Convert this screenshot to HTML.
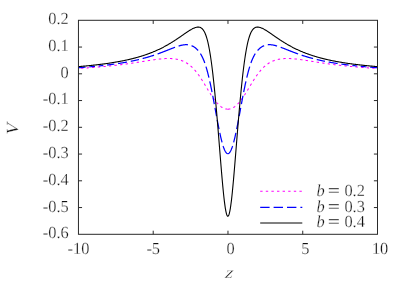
<!DOCTYPE html>
<html><head><meta charset="utf-8"><style>
html,body{margin:0;padding:0;background:#fff}
svg{display:block}
text{text-rendering:geometricPrecision;font-family:"Liberation Serif",serif;font-size:16.4px;fill:#111;stroke:#fff;stroke-width:0.25px;paint-order:fill stroke}
.tx{opacity:0.999}
.ax path,.ax rect{stroke:#2a2a2a;stroke-width:1;fill:none}
.c{fill:none;stroke-width:1.25}
</style></head><body>
<svg width="407" height="286" viewBox="0 0 407 286">
<rect width="407" height="286" fill="#fff"/>
<clipPath id="cp"><rect x="78.45" y="20.3" width="299.05" height="214.0"/></clipPath>
<g clip-path="url(#cp)">
<path class="c" stroke="#ff00ff" style="stroke-width:1.05" stroke-dasharray="2.4 3.2" stroke-dashoffset="2.6" d="M78.00 68.49 L78.37 68.47 L78.75 68.45 L79.12 68.43 L79.50 68.40 L79.87 68.38 L80.25 68.36 L80.62 68.34 L81.00 68.31 L81.37 68.29 L81.75 68.27 L82.12 68.24 L82.50 68.22 L82.87 68.19 L83.24 68.17 L83.62 68.15 L83.99 68.12 L84.37 68.10 L84.74 68.07 L85.12 68.05 L85.49 68.02 L85.87 68.00 L86.24 67.97 L86.62 67.95 L86.99 67.92 L87.37 67.89 L87.74 67.87 L88.11 67.84 L88.49 67.81 L88.86 67.79 L89.24 67.76 L89.61 67.73 L89.99 67.71 L90.36 67.68 L90.74 67.65 L91.11 67.62 L91.49 67.60 L91.86 67.57 L92.24 67.54 L92.61 67.51 L92.98 67.48 L93.36 67.45 L93.73 67.42 L94.11 67.40 L94.48 67.37 L94.86 67.34 L95.23 67.31 L95.61 67.28 L95.98 67.25 L96.36 67.22 L96.73 67.18 L97.11 67.15 L97.48 67.12 L97.86 67.09 L98.23 67.06 L98.60 67.03 L98.98 67.00 L99.35 66.96 L99.73 66.93 L100.10 66.90 L100.48 66.87 L100.85 66.83 L101.23 66.80 L101.60 66.77 L101.98 66.73 L102.35 66.70 L102.73 66.66 L103.10 66.63 L103.47 66.60 L103.85 66.56 L104.22 66.53 L104.60 66.49 L104.97 66.45 L105.35 66.42 L105.72 66.38 L106.10 66.35 L106.47 66.31 L106.85 66.27 L107.22 66.24 L107.60 66.20 L107.97 66.16 L108.34 66.12 L108.72 66.08 L109.09 66.05 L109.47 66.01 L109.84 65.97 L110.22 65.93 L110.59 65.89 L110.97 65.85 L111.34 65.81 L111.72 65.77 L112.09 65.73 L112.47 65.69 L112.84 65.65 L113.21 65.61 L113.59 65.57 L113.96 65.52 L114.34 65.48 L114.71 65.44 L115.09 65.40 L115.46 65.35 L115.84 65.31 L116.21 65.27 L116.59 65.22 L116.96 65.18 L117.34 65.13 L117.71 65.09 L118.08 65.05 L118.46 65.00 L118.83 64.95 L119.21 64.91 L119.58 64.86 L119.96 64.82 L120.33 64.77 L120.71 64.72 L121.08 64.68 L121.46 64.63 L121.83 64.58 L122.21 64.53 L122.58 64.48 L122.95 64.44 L123.33 64.39 L123.70 64.34 L124.08 64.29 L124.45 64.24 L124.83 64.19 L125.20 64.14 L125.58 64.09 L125.95 64.04 L126.33 63.99 L126.70 63.93 L127.08 63.88 L127.45 63.83 L127.83 63.78 L128.20 63.73 L128.57 63.67 L128.95 63.62 L129.32 63.57 L129.70 63.51 L130.07 63.46 L130.45 63.40 L130.82 63.35 L131.20 63.30 L131.57 63.24 L131.95 63.19 L132.32 63.13 L132.70 63.07 L133.07 63.02 L133.44 62.96 L133.82 62.91 L134.19 62.85 L134.57 62.79 L134.94 62.74 L135.32 62.68 L135.69 62.62 L136.07 62.56 L136.44 62.51 L136.82 62.45 L137.19 62.39 L137.57 62.33 L137.94 62.27 L138.31 62.21 L138.69 62.15 L139.06 62.10 L139.44 62.04 L139.81 61.98 L140.19 61.92 L140.56 61.86 L140.94 61.80 L141.31 61.74 L141.69 61.68 L142.06 61.62 L142.44 61.56 L142.81 61.50 L143.18 61.44 L143.56 61.38 L143.93 61.32 L144.31 61.26 L144.68 61.20 L145.06 61.14 L145.43 61.08 L145.81 61.02 L146.18 60.96 L146.56 60.90 L146.93 60.84 L147.31 60.78 L147.68 60.72 L148.05 60.66 L148.43 60.60 L148.80 60.54 L149.18 60.49 L149.55 60.43 L149.93 60.37 L150.30 60.31 L150.68 60.25 L151.05 60.20 L151.43 60.14 L151.80 60.08 L152.18 60.03 L152.55 59.97 L152.93 59.92 L153.30 59.86 L153.67 59.81 L154.05 59.76 L154.42 59.70 L154.80 59.65 L155.17 59.60 L155.55 59.55 L155.92 59.50 L156.30 59.45 L156.67 59.40 L157.05 59.35 L157.42 59.31 L157.80 59.26 L158.17 59.22 L158.54 59.17 L158.92 59.13 L159.29 59.09 L159.67 59.05 L160.04 59.01 L160.42 58.97 L160.79 58.93 L161.17 58.89 L161.54 58.86 L161.92 58.83 L162.29 58.79 L162.67 58.76 L163.04 58.73 L163.41 58.71 L163.79 58.68 L164.16 58.66 L164.54 58.63 L164.91 58.61 L165.29 58.59 L165.66 58.58 L166.04 58.56 L166.41 58.55 L166.79 58.54 L167.16 58.53 L167.54 58.52 L167.91 58.52 L168.28 58.51 L168.66 58.51 L169.03 58.52 L169.41 58.52 L169.78 58.53 L170.16 58.54 L170.53 58.55 L170.91 58.57 L171.28 58.59 L171.66 58.61 L172.03 58.63 L172.41 58.66 L172.78 58.69 L173.15 58.73 L173.53 58.76 L173.90 58.80 L174.28 58.85 L174.65 58.90 L175.03 58.95 L175.40 59.00 L175.78 59.06 L176.15 59.13 L176.53 59.19 L176.90 59.27 L177.28 59.34 L177.65 59.42 L178.02 59.51 L178.40 59.60 L178.77 59.69 L179.15 59.79 L179.52 59.90 L179.90 60.01 L180.27 60.12 L180.65 60.24 L181.02 60.37 L181.40 60.50 L181.77 60.64 L182.15 60.78 L182.52 60.93 L182.89 61.08 L183.27 61.25 L183.64 61.42 L184.02 61.59 L184.39 61.77 L184.77 61.96 L185.14 62.16 L185.52 62.36 L185.89 62.57 L186.27 62.79 L186.64 63.02 L187.02 63.25 L187.39 63.49 L187.77 63.74 L188.14 64.00 L188.51 64.27 L188.89 64.55 L189.26 64.83 L189.64 65.12 L190.01 65.43 L190.39 65.74 L190.76 66.06 L191.14 66.39 L191.51 66.73 L191.89 67.08 L192.26 67.44 L192.64 67.80 L193.01 68.18 L193.38 68.57 L193.76 68.97 L194.13 69.38 L194.51 69.79 L194.88 70.22 L195.26 70.66 L195.63 71.11 L196.01 71.56 L196.38 72.03 L196.76 72.50 L197.13 72.99 L197.51 73.48 L197.88 73.99 L198.25 74.50 L198.63 75.02 L199.00 75.55 L199.38 76.09 L199.75 76.64 L200.13 77.19 L200.50 77.75 L200.88 78.32 L201.25 78.90 L201.63 79.48 L202.00 80.07 L202.38 80.66 L202.75 81.26 L203.12 81.86 L203.50 82.47 L203.87 83.08 L204.25 83.70 L204.62 84.32 L205.00 84.94 L205.37 85.56 L205.75 86.19 L206.12 86.81 L206.50 87.44 L206.87 88.06 L207.25 88.68 L207.62 89.31 L207.99 89.93 L208.37 90.54 L208.74 91.16 L209.12 91.77 L209.49 92.38 L209.87 92.98 L210.24 93.58 L210.62 94.17 L210.99 94.76 L211.37 95.33 L211.74 95.91 L212.12 96.47 L212.49 97.02 L212.87 97.57 L213.24 98.11 L213.61 98.64 L213.99 99.16 L214.36 99.66 L214.74 100.16 L215.11 100.65 L215.49 101.12 L215.86 101.59 L216.24 102.04 L216.61 102.48 L216.99 102.91 L217.36 103.32 L217.74 103.72 L218.11 104.11 L218.48 104.48 L218.86 104.85 L219.23 105.19 L219.61 105.53 L219.98 105.85 L220.36 106.15 L220.73 106.44 L221.11 106.72 L221.48 106.98 L221.86 107.23 L222.23 107.47 L222.61 107.68 L222.98 107.89 L223.35 108.08 L223.73 108.25 L224.10 108.41 L224.48 108.55 L224.85 108.68 L225.23 108.80 L225.60 108.89 L225.98 108.98 L226.35 109.05 L226.73 109.10 L227.10 109.14 L227.48 109.16 L227.85 109.17"/>
<path class="c" stroke="#ff00ff" style="stroke-width:1.05" stroke-dasharray="2.4 3.2" stroke-dashoffset="2.6" d="M377.70 68.49 L377.33 68.47 L376.95 68.45 L376.58 68.43 L376.20 68.40 L375.83 68.38 L375.45 68.36 L375.08 68.34 L374.70 68.31 L374.33 68.29 L373.95 68.27 L373.58 68.24 L373.20 68.22 L372.83 68.19 L372.46 68.17 L372.08 68.15 L371.71 68.12 L371.33 68.10 L370.96 68.07 L370.58 68.05 L370.21 68.02 L369.83 68.00 L369.46 67.97 L369.08 67.95 L368.71 67.92 L368.33 67.89 L367.96 67.87 L367.59 67.84 L367.21 67.81 L366.84 67.79 L366.46 67.76 L366.09 67.73 L365.71 67.71 L365.34 67.68 L364.96 67.65 L364.59 67.62 L364.21 67.60 L363.84 67.57 L363.46 67.54 L363.09 67.51 L362.72 67.48 L362.34 67.45 L361.97 67.42 L361.59 67.40 L361.22 67.37 L360.84 67.34 L360.47 67.31 L360.09 67.28 L359.72 67.25 L359.34 67.22 L358.97 67.18 L358.59 67.15 L358.22 67.12 L357.84 67.09 L357.47 67.06 L357.10 67.03 L356.72 67.00 L356.35 66.96 L355.97 66.93 L355.60 66.90 L355.22 66.87 L354.85 66.83 L354.47 66.80 L354.10 66.77 L353.72 66.73 L353.35 66.70 L352.97 66.66 L352.60 66.63 L352.23 66.60 L351.85 66.56 L351.48 66.53 L351.10 66.49 L350.73 66.45 L350.35 66.42 L349.98 66.38 L349.60 66.35 L349.23 66.31 L348.85 66.27 L348.48 66.24 L348.10 66.20 L347.73 66.16 L347.36 66.12 L346.98 66.08 L346.61 66.05 L346.23 66.01 L345.86 65.97 L345.48 65.93 L345.11 65.89 L344.73 65.85 L344.36 65.81 L343.98 65.77 L343.61 65.73 L343.23 65.69 L342.86 65.65 L342.49 65.61 L342.11 65.57 L341.74 65.52 L341.36 65.48 L340.99 65.44 L340.61 65.40 L340.24 65.35 L339.86 65.31 L339.49 65.27 L339.11 65.22 L338.74 65.18 L338.36 65.13 L337.99 65.09 L337.62 65.05 L337.24 65.00 L336.87 64.95 L336.49 64.91 L336.12 64.86 L335.74 64.82 L335.37 64.77 L334.99 64.72 L334.62 64.68 L334.24 64.63 L333.87 64.58 L333.49 64.53 L333.12 64.48 L332.75 64.44 L332.37 64.39 L332.00 64.34 L331.62 64.29 L331.25 64.24 L330.87 64.19 L330.50 64.14 L330.12 64.09 L329.75 64.04 L329.37 63.99 L329.00 63.93 L328.62 63.88 L328.25 63.83 L327.87 63.78 L327.50 63.73 L327.13 63.67 L326.75 63.62 L326.38 63.57 L326.00 63.51 L325.63 63.46 L325.25 63.40 L324.88 63.35 L324.50 63.30 L324.13 63.24 L323.75 63.19 L323.38 63.13 L323.00 63.07 L322.63 63.02 L322.26 62.96 L321.88 62.91 L321.51 62.85 L321.13 62.79 L320.76 62.74 L320.38 62.68 L320.01 62.62 L319.63 62.56 L319.26 62.51 L318.88 62.45 L318.51 62.39 L318.13 62.33 L317.76 62.27 L317.39 62.21 L317.01 62.15 L316.64 62.10 L316.26 62.04 L315.89 61.98 L315.51 61.92 L315.14 61.86 L314.76 61.80 L314.39 61.74 L314.01 61.68 L313.64 61.62 L313.26 61.56 L312.89 61.50 L312.52 61.44 L312.14 61.38 L311.77 61.32 L311.39 61.26 L311.02 61.20 L310.64 61.14 L310.27 61.08 L309.89 61.02 L309.52 60.96 L309.14 60.90 L308.77 60.84 L308.39 60.78 L308.02 60.72 L307.65 60.66 L307.27 60.60 L306.90 60.54 L306.52 60.49 L306.15 60.43 L305.77 60.37 L305.40 60.31 L305.02 60.25 L304.65 60.20 L304.27 60.14 L303.90 60.08 L303.52 60.03 L303.15 59.97 L302.77 59.92 L302.40 59.86 L302.03 59.81 L301.65 59.76 L301.28 59.70 L300.90 59.65 L300.53 59.60 L300.15 59.55 L299.78 59.50 L299.40 59.45 L299.03 59.40 L298.65 59.35 L298.28 59.31 L297.90 59.26 L297.53 59.22 L297.16 59.17 L296.78 59.13 L296.41 59.09 L296.03 59.05 L295.66 59.01 L295.28 58.97 L294.91 58.93 L294.53 58.89 L294.16 58.86 L293.78 58.83 L293.41 58.79 L293.03 58.76 L292.66 58.73 L292.29 58.71 L291.91 58.68 L291.54 58.66 L291.16 58.63 L290.79 58.61 L290.41 58.59 L290.04 58.58 L289.66 58.56 L289.29 58.55 L288.91 58.54 L288.54 58.53 L288.16 58.52 L287.79 58.52 L287.42 58.51 L287.04 58.51 L286.67 58.52 L286.29 58.52 L285.92 58.53 L285.54 58.54 L285.17 58.55 L284.79 58.57 L284.42 58.59 L284.04 58.61 L283.67 58.63 L283.29 58.66 L282.92 58.69 L282.55 58.73 L282.17 58.76 L281.80 58.80 L281.42 58.85 L281.05 58.90 L280.67 58.95 L280.30 59.00 L279.92 59.06 L279.55 59.13 L279.17 59.19 L278.80 59.27 L278.42 59.34 L278.05 59.42 L277.68 59.51 L277.30 59.60 L276.93 59.69 L276.55 59.79 L276.18 59.90 L275.80 60.01 L275.43 60.12 L275.05 60.24 L274.68 60.37 L274.30 60.50 L273.93 60.64 L273.55 60.78 L273.18 60.93 L272.81 61.08 L272.43 61.25 L272.06 61.42 L271.68 61.59 L271.31 61.77 L270.93 61.96 L270.56 62.16 L270.18 62.36 L269.81 62.57 L269.43 62.79 L269.06 63.02 L268.68 63.25 L268.31 63.49 L267.93 63.74 L267.56 64.00 L267.19 64.27 L266.81 64.55 L266.44 64.83 L266.06 65.12 L265.69 65.43 L265.31 65.74 L264.94 66.06 L264.56 66.39 L264.19 66.73 L263.81 67.08 L263.44 67.44 L263.06 67.80 L262.69 68.18 L262.32 68.57 L261.94 68.97 L261.57 69.38 L261.19 69.79 L260.82 70.22 L260.44 70.66 L260.07 71.11 L259.69 71.56 L259.32 72.03 L258.94 72.50 L258.57 72.99 L258.19 73.48 L257.82 73.99 L257.45 74.50 L257.07 75.02 L256.70 75.55 L256.32 76.09 L255.95 76.64 L255.57 77.19 L255.20 77.75 L254.82 78.32 L254.45 78.90 L254.07 79.48 L253.70 80.07 L253.32 80.66 L252.95 81.26 L252.58 81.86 L252.20 82.47 L251.83 83.08 L251.45 83.70 L251.08 84.32 L250.70 84.94 L250.33 85.56 L249.95 86.19 L249.58 86.81 L249.20 87.44 L248.83 88.06 L248.45 88.68 L248.08 89.31 L247.71 89.93 L247.33 90.54 L246.96 91.16 L246.58 91.77 L246.21 92.38 L245.83 92.98 L245.46 93.58 L245.08 94.17 L244.71 94.76 L244.33 95.33 L243.96 95.91 L243.58 96.47 L243.21 97.02 L242.83 97.57 L242.46 98.11 L242.09 98.64 L241.71 99.16 L241.34 99.66 L240.96 100.16 L240.59 100.65 L240.21 101.12 L239.84 101.59 L239.46 102.04 L239.09 102.48 L238.71 102.91 L238.34 103.32 L237.96 103.72 L237.59 104.11 L237.22 104.48 L236.84 104.85 L236.47 105.19 L236.09 105.53 L235.72 105.85 L235.34 106.15 L234.97 106.44 L234.59 106.72 L234.22 106.98 L233.84 107.23 L233.47 107.47 L233.09 107.68 L232.72 107.89 L232.35 108.08 L231.97 108.25 L231.60 108.41 L231.22 108.55 L230.85 108.68 L230.47 108.80 L230.10 108.89 L229.72 108.98 L229.35 109.05 L228.97 109.10 L228.60 109.14 L228.22 109.16 L227.85 109.17"/>
<path class="c" stroke="#0000ff" stroke-dasharray="7.63 3.80 5.64 3.80 4.55 3.80 7.29 3.80 9.08 3.80 8.39 3.80 11.85 3.80 18.66 3.80 9.47 3.80 8.18 3.80 10.43 3.80 11.43 3.80 10.91 3.80 8.51 3.80 8.40 3.80 9.45 3.80 9.77 3.80 10.43 0.00" d="M78.00 67.71 L78.37 67.68 L78.75 67.65 L79.12 67.63 L79.50 67.60 L79.87 67.57 L80.25 67.55 L80.62 67.52 L81.00 67.49 L81.37 67.47 L81.75 67.44 L82.12 67.41 L82.50 67.38 L82.87 67.35 L83.24 67.33 L83.62 67.30 L83.99 67.27 L84.37 67.24 L84.74 67.21 L85.12 67.18 L85.49 67.15 L85.87 67.12 L86.24 67.09 L86.62 67.06 L86.99 67.03 L87.37 67.00 L87.74 66.97 L88.11 66.94 L88.49 66.91 L88.86 66.88 L89.24 66.84 L89.61 66.81 L89.99 66.78 L90.36 66.75 L90.74 66.72 L91.11 66.68 L91.49 66.65 L91.86 66.62 L92.24 66.58 L92.61 66.55 L92.98 66.51 L93.36 66.48 L93.73 66.45 L94.11 66.41 L94.48 66.38 L94.86 66.34 L95.23 66.31 L95.61 66.27 L95.98 66.23 L96.36 66.20 L96.73 66.16 L97.11 66.12 L97.48 66.09 L97.86 66.05 L98.23 66.01 L98.60 65.97 L98.98 65.93 L99.35 65.90 L99.73 65.86 L100.10 65.82 L100.48 65.78 L100.85 65.74 L101.23 65.70 L101.60 65.66 L101.98 65.62 L102.35 65.58 L102.73 65.54 L103.10 65.49 L103.47 65.45 L103.85 65.41 L104.22 65.37 L104.60 65.32 L104.97 65.28 L105.35 65.24 L105.72 65.19 L106.10 65.15 L106.47 65.11 L106.85 65.06 L107.22 65.02 L107.60 64.97 L107.97 64.92 L108.34 64.88 L108.72 64.83 L109.09 64.78 L109.47 64.74 L109.84 64.69 L110.22 64.64 L110.59 64.59 L110.97 64.54 L111.34 64.49 L111.72 64.44 L112.09 64.39 L112.47 64.34 L112.84 64.29 L113.21 64.24 L113.59 64.19 L113.96 64.14 L114.34 64.09 L114.71 64.03 L115.09 63.98 L115.46 63.93 L115.84 63.87 L116.21 63.82 L116.59 63.76 L116.96 63.71 L117.34 63.65 L117.71 63.59 L118.08 63.54 L118.46 63.48 L118.83 63.42 L119.21 63.36 L119.58 63.30 L119.96 63.25 L120.33 63.19 L120.71 63.13 L121.08 63.06 L121.46 63.00 L121.83 62.94 L122.21 62.88 L122.58 62.82 L122.95 62.75 L123.33 62.69 L123.70 62.63 L124.08 62.56 L124.45 62.50 L124.83 62.43 L125.20 62.36 L125.58 62.30 L125.95 62.23 L126.33 62.16 L126.70 62.09 L127.08 62.02 L127.45 61.95 L127.83 61.88 L128.20 61.81 L128.57 61.74 L128.95 61.67 L129.32 61.59 L129.70 61.52 L130.07 61.45 L130.45 61.37 L130.82 61.30 L131.20 61.22 L131.57 61.14 L131.95 61.07 L132.32 60.99 L132.70 60.91 L133.07 60.83 L133.44 60.75 L133.82 60.67 L134.19 60.59 L134.57 60.51 L134.94 60.43 L135.32 60.34 L135.69 60.26 L136.07 60.17 L136.44 60.09 L136.82 60.00 L137.19 59.92 L137.57 59.83 L137.94 59.74 L138.31 59.65 L138.69 59.56 L139.06 59.47 L139.44 59.38 L139.81 59.29 L140.19 59.19 L140.56 59.10 L140.94 59.01 L141.31 58.91 L141.69 58.81 L142.06 58.72 L142.44 58.62 L142.81 58.52 L143.18 58.42 L143.56 58.32 L143.93 58.22 L144.31 58.12 L144.68 58.02 L145.06 57.91 L145.43 57.81 L145.81 57.70 L146.18 57.60 L146.56 57.49 L146.93 57.38 L147.31 57.28 L147.68 57.17 L148.05 57.06 L148.43 56.94 L148.80 56.83 L149.18 56.72 L149.55 56.61 L149.93 56.49 L150.30 56.38 L150.68 56.26 L151.05 56.14 L151.43 56.02 L151.80 55.90 L152.18 55.78 L152.55 55.66 L152.93 55.54 L153.30 55.42 L153.67 55.30 L154.05 55.17 L154.42 55.05 L154.80 54.92 L155.17 54.79 L155.55 54.66 L155.92 54.54 L156.30 54.41 L156.67 54.27 L157.05 54.14 L157.42 54.01 L157.80 53.88 L158.17 53.74 L158.54 53.61 L158.92 53.47 L159.29 53.34 L159.67 53.20 L160.04 53.06 L160.42 52.92 L160.79 52.78 L161.17 52.64 L161.54 52.50 L161.92 52.36 L162.29 52.22 L162.67 52.07 L163.04 51.93 L163.41 51.79 L163.79 51.64 L164.16 51.50 L164.54 51.35 L164.91 51.20 L165.29 51.06 L165.66 50.91 L166.04 50.76 L166.41 50.62 L166.79 50.47 L167.16 50.32 L167.54 50.17 L167.91 50.02 L168.28 49.87 L168.66 49.72 L169.03 49.57 L169.41 49.43 L169.78 49.28 L170.16 49.13 L170.53 48.98 L170.91 48.83 L171.28 48.69 L171.66 48.54 L172.03 48.39 L172.41 48.25 L172.78 48.10 L173.15 47.96 L173.53 47.82 L173.90 47.67 L174.28 47.53 L174.65 47.40 L175.03 47.26 L175.40 47.12 L175.78 46.99 L176.15 46.86 L176.53 46.72 L176.90 46.60 L177.28 46.47 L177.65 46.35 L178.02 46.23 L178.40 46.11 L178.77 45.99 L179.15 45.88 L179.52 45.78 L179.90 45.67 L180.27 45.57 L180.65 45.47 L181.02 45.38 L181.40 45.29 L181.77 45.21 L182.15 45.13 L182.52 45.06 L182.89 45.00 L183.27 44.93 L183.64 44.88 L184.02 44.83 L184.39 44.79 L184.77 44.75 L185.14 44.73 L185.52 44.71 L185.89 44.70 L186.27 44.69 L186.64 44.70 L187.02 44.71 L187.39 44.73 L187.77 44.76 L188.14 44.81 L188.51 44.86 L188.89 44.92 L189.26 44.99 L189.64 45.08 L190.01 45.17 L190.39 45.28 L190.76 45.39 L191.14 45.52 L191.51 45.66 L191.89 45.82 L192.26 45.99 L192.64 46.17 L193.01 46.36 L193.38 46.57 L193.76 46.79 L194.13 47.02 L194.51 47.27 L194.88 47.53 L195.26 47.81 L195.63 48.11 L196.01 48.42 L196.38 48.75 L196.76 49.09 L197.13 49.46 L197.51 49.84 L197.88 50.24 L198.25 50.67 L198.63 51.11 L199.00 51.59 L199.38 52.08 L199.75 52.61 L200.13 53.16 L200.50 53.74 L200.88 54.35 L201.25 55.00 L201.63 55.68 L202.00 56.40 L202.38 57.15 L202.75 57.95 L203.12 58.79 L203.50 59.66 L203.87 60.59 L204.25 61.55 L204.62 62.57 L205.00 63.63 L205.37 64.74 L205.75 65.89 L206.12 67.10 L206.50 68.35 L206.87 69.65 L207.25 71.00 L207.62 72.40 L207.99 73.85 L208.37 75.34 L208.74 76.88 L209.12 78.47 L209.49 80.10 L209.87 81.77 L210.24 83.48 L210.62 85.24 L210.99 87.03 L211.37 88.85 L211.74 90.71 L212.12 92.60 L212.49 94.52 L212.87 96.47 L213.24 98.43 L213.61 100.42 L213.99 102.43 L214.36 104.44 L214.74 106.47 L215.11 108.50 L215.49 110.54 L215.86 112.58 L216.24 114.61 L216.61 116.63 L216.99 118.63 L217.36 120.62 L217.74 122.59 L218.11 124.54 L218.48 126.45 L218.86 128.33 L219.23 130.17 L219.61 131.97 L219.98 133.72 L220.36 135.43 L220.73 137.08 L221.11 138.67 L221.48 140.19 L221.86 141.65 L222.23 143.05 L222.61 144.37 L222.98 145.61 L223.35 146.77 L223.73 147.86 L224.10 148.85 L224.48 149.76 L224.85 150.59 L225.23 151.32 L225.60 151.95 L225.98 152.49 L226.35 152.94 L226.73 153.28 L227.10 153.53 L227.48 153.68 L227.85 153.73"/>
<path class="c" stroke="#0000ff" stroke-dasharray="7.63 3.80 5.64 3.80 4.55 3.80 7.29 3.80 9.08 3.80 8.39 3.80 11.85 3.80 18.66 3.80 9.47 3.80 8.18 3.80 10.43 3.80 11.43 3.80 10.91 3.80 8.51 3.80 8.40 3.80 9.45 3.80 9.77 3.80 10.43 0.00" d="M377.70 67.71 L377.33 67.68 L376.95 67.65 L376.58 67.63 L376.20 67.60 L375.83 67.57 L375.45 67.55 L375.08 67.52 L374.70 67.49 L374.33 67.47 L373.95 67.44 L373.58 67.41 L373.20 67.38 L372.83 67.35 L372.46 67.33 L372.08 67.30 L371.71 67.27 L371.33 67.24 L370.96 67.21 L370.58 67.18 L370.21 67.15 L369.83 67.12 L369.46 67.09 L369.08 67.06 L368.71 67.03 L368.33 67.00 L367.96 66.97 L367.59 66.94 L367.21 66.91 L366.84 66.88 L366.46 66.84 L366.09 66.81 L365.71 66.78 L365.34 66.75 L364.96 66.72 L364.59 66.68 L364.21 66.65 L363.84 66.62 L363.46 66.58 L363.09 66.55 L362.72 66.51 L362.34 66.48 L361.97 66.45 L361.59 66.41 L361.22 66.38 L360.84 66.34 L360.47 66.31 L360.09 66.27 L359.72 66.23 L359.34 66.20 L358.97 66.16 L358.59 66.12 L358.22 66.09 L357.84 66.05 L357.47 66.01 L357.10 65.97 L356.72 65.93 L356.35 65.90 L355.97 65.86 L355.60 65.82 L355.22 65.78 L354.85 65.74 L354.47 65.70 L354.10 65.66 L353.72 65.62 L353.35 65.58 L352.97 65.54 L352.60 65.49 L352.23 65.45 L351.85 65.41 L351.48 65.37 L351.10 65.32 L350.73 65.28 L350.35 65.24 L349.98 65.19 L349.60 65.15 L349.23 65.11 L348.85 65.06 L348.48 65.02 L348.10 64.97 L347.73 64.92 L347.36 64.88 L346.98 64.83 L346.61 64.78 L346.23 64.74 L345.86 64.69 L345.48 64.64 L345.11 64.59 L344.73 64.54 L344.36 64.49 L343.98 64.44 L343.61 64.39 L343.23 64.34 L342.86 64.29 L342.49 64.24 L342.11 64.19 L341.74 64.14 L341.36 64.09 L340.99 64.03 L340.61 63.98 L340.24 63.93 L339.86 63.87 L339.49 63.82 L339.11 63.76 L338.74 63.71 L338.36 63.65 L337.99 63.59 L337.62 63.54 L337.24 63.48 L336.87 63.42 L336.49 63.36 L336.12 63.30 L335.74 63.25 L335.37 63.19 L334.99 63.13 L334.62 63.06 L334.24 63.00 L333.87 62.94 L333.49 62.88 L333.12 62.82 L332.75 62.75 L332.37 62.69 L332.00 62.63 L331.62 62.56 L331.25 62.50 L330.87 62.43 L330.50 62.36 L330.12 62.30 L329.75 62.23 L329.37 62.16 L329.00 62.09 L328.62 62.02 L328.25 61.95 L327.87 61.88 L327.50 61.81 L327.13 61.74 L326.75 61.67 L326.38 61.59 L326.00 61.52 L325.63 61.45 L325.25 61.37 L324.88 61.30 L324.50 61.22 L324.13 61.14 L323.75 61.07 L323.38 60.99 L323.00 60.91 L322.63 60.83 L322.26 60.75 L321.88 60.67 L321.51 60.59 L321.13 60.51 L320.76 60.43 L320.38 60.34 L320.01 60.26 L319.63 60.17 L319.26 60.09 L318.88 60.00 L318.51 59.92 L318.13 59.83 L317.76 59.74 L317.39 59.65 L317.01 59.56 L316.64 59.47 L316.26 59.38 L315.89 59.29 L315.51 59.19 L315.14 59.10 L314.76 59.01 L314.39 58.91 L314.01 58.81 L313.64 58.72 L313.26 58.62 L312.89 58.52 L312.52 58.42 L312.14 58.32 L311.77 58.22 L311.39 58.12 L311.02 58.02 L310.64 57.91 L310.27 57.81 L309.89 57.70 L309.52 57.60 L309.14 57.49 L308.77 57.38 L308.39 57.28 L308.02 57.17 L307.65 57.06 L307.27 56.94 L306.90 56.83 L306.52 56.72 L306.15 56.61 L305.77 56.49 L305.40 56.38 L305.02 56.26 L304.65 56.14 L304.27 56.02 L303.90 55.90 L303.52 55.78 L303.15 55.66 L302.77 55.54 L302.40 55.42 L302.03 55.30 L301.65 55.17 L301.28 55.05 L300.90 54.92 L300.53 54.79 L300.15 54.66 L299.78 54.54 L299.40 54.41 L299.03 54.27 L298.65 54.14 L298.28 54.01 L297.90 53.88 L297.53 53.74 L297.16 53.61 L296.78 53.47 L296.41 53.34 L296.03 53.20 L295.66 53.06 L295.28 52.92 L294.91 52.78 L294.53 52.64 L294.16 52.50 L293.78 52.36 L293.41 52.22 L293.03 52.07 L292.66 51.93 L292.29 51.79 L291.91 51.64 L291.54 51.50 L291.16 51.35 L290.79 51.20 L290.41 51.06 L290.04 50.91 L289.66 50.76 L289.29 50.62 L288.91 50.47 L288.54 50.32 L288.16 50.17 L287.79 50.02 L287.42 49.87 L287.04 49.72 L286.67 49.57 L286.29 49.43 L285.92 49.28 L285.54 49.13 L285.17 48.98 L284.79 48.83 L284.42 48.69 L284.04 48.54 L283.67 48.39 L283.29 48.25 L282.92 48.10 L282.55 47.96 L282.17 47.82 L281.80 47.67 L281.42 47.53 L281.05 47.40 L280.67 47.26 L280.30 47.12 L279.92 46.99 L279.55 46.86 L279.17 46.72 L278.80 46.60 L278.42 46.47 L278.05 46.35 L277.68 46.23 L277.30 46.11 L276.93 45.99 L276.55 45.88 L276.18 45.78 L275.80 45.67 L275.43 45.57 L275.05 45.47 L274.68 45.38 L274.30 45.29 L273.93 45.21 L273.55 45.13 L273.18 45.06 L272.81 45.00 L272.43 44.93 L272.06 44.88 L271.68 44.83 L271.31 44.79 L270.93 44.75 L270.56 44.73 L270.18 44.71 L269.81 44.70 L269.43 44.69 L269.06 44.70 L268.68 44.71 L268.31 44.73 L267.93 44.76 L267.56 44.81 L267.19 44.86 L266.81 44.92 L266.44 44.99 L266.06 45.08 L265.69 45.17 L265.31 45.28 L264.94 45.39 L264.56 45.52 L264.19 45.66 L263.81 45.82 L263.44 45.99 L263.06 46.17 L262.69 46.36 L262.32 46.57 L261.94 46.79 L261.57 47.02 L261.19 47.27 L260.82 47.53 L260.44 47.81 L260.07 48.11 L259.69 48.42 L259.32 48.75 L258.94 49.09 L258.57 49.46 L258.19 49.84 L257.82 50.24 L257.45 50.67 L257.07 51.11 L256.70 51.59 L256.32 52.08 L255.95 52.61 L255.57 53.16 L255.20 53.74 L254.82 54.35 L254.45 55.00 L254.07 55.68 L253.70 56.40 L253.32 57.15 L252.95 57.95 L252.58 58.79 L252.20 59.66 L251.83 60.59 L251.45 61.55 L251.08 62.57 L250.70 63.63 L250.33 64.74 L249.95 65.89 L249.58 67.10 L249.20 68.35 L248.83 69.65 L248.45 71.00 L248.08 72.40 L247.71 73.85 L247.33 75.34 L246.96 76.88 L246.58 78.47 L246.21 80.10 L245.83 81.77 L245.46 83.48 L245.08 85.24 L244.71 87.03 L244.33 88.85 L243.96 90.71 L243.58 92.60 L243.21 94.52 L242.83 96.47 L242.46 98.43 L242.09 100.42 L241.71 102.43 L241.34 104.44 L240.96 106.47 L240.59 108.50 L240.21 110.54 L239.84 112.58 L239.46 114.61 L239.09 116.63 L238.71 118.63 L238.34 120.62 L237.96 122.59 L237.59 124.54 L237.22 126.45 L236.84 128.33 L236.47 130.17 L236.09 131.97 L235.72 133.72 L235.34 135.43 L234.97 137.08 L234.59 138.67 L234.22 140.19 L233.84 141.65 L233.47 143.05 L233.09 144.37 L232.72 145.61 L232.35 146.77 L231.97 147.86 L231.60 148.85 L231.22 149.76 L230.85 150.59 L230.47 151.32 L230.10 151.95 L229.72 152.49 L229.35 152.94 L228.97 153.28 L228.60 153.53 L228.22 153.68 L227.85 153.73"/>
<path class="c" stroke="#000" style="stroke-width:1.1" d="M78.00 66.64 L78.50 66.60 L79.00 66.56 L79.50 66.52 L80.00 66.47 L80.50 66.43 L81.00 66.39 L81.50 66.34 L82.00 66.30 L82.50 66.26 L83.00 66.21 L83.49 66.17 L83.99 66.12 L84.49 66.08 L84.99 66.03 L85.49 65.98 L85.99 65.94 L86.49 65.89 L86.99 65.84 L87.49 65.79 L87.99 65.74 L88.49 65.69 L88.99 65.64 L89.49 65.59 L89.99 65.54 L90.49 65.49 L90.99 65.44 L91.49 65.39 L91.99 65.34 L92.49 65.28 L92.98 65.23 L93.48 65.17 L93.98 65.12 L94.48 65.06 L94.98 65.01 L95.48 64.95 L95.98 64.89 L96.48 64.84 L96.98 64.78 L97.48 64.72 L97.98 64.66 L98.48 64.60 L98.98 64.54 L99.48 64.48 L99.98 64.42 L100.48 64.36 L100.98 64.29 L101.48 64.23 L101.98 64.17 L102.48 64.10 L102.97 64.04 L103.47 63.97 L103.97 63.90 L104.47 63.84 L104.97 63.77 L105.47 63.70 L105.97 63.63 L106.47 63.56 L106.97 63.49 L107.47 63.42 L107.97 63.34 L108.47 63.27 L108.97 63.20 L109.47 63.12 L109.97 63.05 L110.47 62.97 L110.97 62.89 L111.47 62.81 L111.97 62.74 L112.47 62.66 L112.97 62.57 L113.46 62.49 L113.96 62.41 L114.46 62.33 L114.96 62.24 L115.46 62.16 L115.96 62.07 L116.46 61.99 L116.96 61.90 L117.46 61.81 L117.96 61.72 L118.46 61.63 L118.96 61.54 L119.46 61.44 L119.96 61.35 L120.46 61.26 L120.96 61.16 L121.46 61.06 L121.96 60.97 L122.46 60.87 L122.95 60.77 L123.45 60.67 L123.95 60.56 L124.45 60.46 L124.95 60.35 L125.45 60.25 L125.95 60.14 L126.45 60.03 L126.95 59.92 L127.45 59.81 L127.95 59.70 L128.45 59.59 L128.95 59.47 L129.45 59.36 L129.95 59.24 L130.45 59.12 L130.95 59.00 L131.45 58.88 L131.95 58.75 L132.45 58.63 L132.94 58.50 L133.44 58.38 L133.94 58.25 L134.44 58.12 L134.94 57.99 L135.44 57.85 L135.94 57.72 L136.44 57.58 L136.94 57.44 L137.44 57.30 L137.94 57.16 L138.44 57.02 L138.94 56.87 L139.44 56.72 L139.94 56.58 L140.44 56.43 L140.94 56.27 L141.44 56.12 L141.94 55.96 L142.44 55.81 L142.94 55.65 L143.43 55.49 L143.93 55.32 L144.43 55.16 L144.93 54.99 L145.43 54.82 L145.93 54.65 L146.43 54.47 L146.93 54.30 L147.43 54.12 L147.93 53.94 L148.43 53.76 L148.93 53.57 L149.43 53.39 L149.93 53.20 L150.43 53.01 L150.93 52.81 L151.43 52.62 L151.93 52.42 L152.43 52.22 L152.93 52.02 L153.42 51.81 L153.92 51.60 L154.42 51.39 L154.92 51.18 L155.42 50.96 L155.92 50.74 L156.42 50.52 L156.92 50.30 L157.42 50.07 L157.92 49.85 L158.42 49.61 L158.92 49.38 L159.42 49.14 L159.92 48.90 L160.42 48.66 L160.92 48.41 L161.42 48.17 L161.92 47.92 L162.42 47.66 L162.92 47.41 L163.41 47.15 L163.91 46.88 L164.41 46.62 L164.91 46.35 L165.41 46.08 L165.91 45.80 L166.41 45.53 L166.91 45.25 L167.41 44.96 L167.91 44.68 L168.41 44.39 L168.91 44.10 L169.41 43.80 L169.91 43.51 L170.41 43.21 L170.91 42.90 L171.41 42.60 L171.91 42.29 L172.41 41.98 L172.91 41.66 L173.40 41.35 L173.90 41.03 L174.40 40.71 L174.90 40.38 L175.40 40.05 L175.90 39.73 L176.40 39.39 L176.90 39.06 L177.40 38.73 L177.90 38.39 L178.40 38.05 L178.90 37.71 L179.40 37.37 L179.90 37.02 L180.40 36.68 L180.90 36.34 L181.40 35.99 L181.90 35.64 L182.40 35.30 L182.89 34.95 L183.39 34.60 L183.89 34.25 L184.39 33.91 L184.89 33.56 L185.39 33.22 L185.89 32.88 L186.39 32.54 L186.89 32.21 L187.39 31.87 L187.89 31.54 L188.39 31.22 L188.89 30.90 L189.39 30.58 L189.89 30.28 L190.39 29.97 L190.89 29.68 L191.39 29.39 L191.89 29.12 L192.39 28.85 L192.88 28.60 L193.38 28.36 L193.88 28.14 L194.38 27.93 L194.88 27.74 L195.38 27.57 L195.88 27.42 L196.38 27.29 L196.88 27.19 L197.38 27.12 L197.88 27.08 L198.38 27.08 L198.88 27.12 L199.38 27.21 L199.88 27.34 L200.38 27.53 L200.88 27.78 L201.38 28.09 L201.88 28.48 L202.38 28.95 L202.88 29.51 L203.37 30.17 L203.87 30.94 L204.37 31.82 L204.87 32.84 L205.37 33.99 L205.87 35.30 L206.37 36.76 L206.87 38.40 L207.37 40.22 L207.87 42.23 L208.37 44.44 L208.87 46.85 L209.37 49.48 L209.87 52.33 L210.37 55.41 L210.87 58.71 L211.37 62.24 L211.87 65.99 L212.37 69.97 L212.87 74.18 L213.36 78.61 L213.86 83.25 L214.36 88.10 L214.86 93.15 L215.36 98.39 L215.86 103.81 L216.36 109.40 L216.86 115.14 L217.36 121.03 L217.86 127.03 L218.36 133.12 L218.86 139.28 L219.36 145.49 L219.86 151.70 L220.36 157.89 L220.86 164.01 L221.36 170.02 L221.86 175.87 L222.36 181.52 L222.85 186.92 L223.35 192.01 L223.85 196.74 L224.35 201.07 L224.85 204.93 L225.35 208.29 L225.85 211.10 L226.35 213.32 L226.85 214.93 L227.35 215.91 L227.85 216.23 L228.35 215.91 L228.85 214.93 L229.35 213.32 L229.85 211.10 L230.35 208.29 L230.85 204.93 L231.35 201.07 L231.85 196.74 L232.35 192.01 L232.84 186.92 L233.34 181.52 L233.84 175.87 L234.34 170.02 L234.84 164.01 L235.34 157.89 L235.84 151.70 L236.34 145.49 L236.84 139.28 L237.34 133.12 L237.84 127.03 L238.34 121.03 L238.84 115.14 L239.34 109.40 L239.84 103.81 L240.34 98.39 L240.84 93.15 L241.34 88.10 L241.84 83.25 L242.34 78.61 L242.83 74.18 L243.33 69.97 L243.83 65.99 L244.33 62.24 L244.83 58.71 L245.33 55.41 L245.83 52.33 L246.33 49.48 L246.83 46.85 L247.33 44.44 L247.83 42.23 L248.33 40.22 L248.83 38.40 L249.33 36.76 L249.83 35.30 L250.33 33.99 L250.83 32.84 L251.33 31.82 L251.83 30.94 L252.33 30.17 L252.82 29.51 L253.32 28.95 L253.82 28.48 L254.32 28.09 L254.82 27.78 L255.32 27.53 L255.82 27.34 L256.32 27.21 L256.82 27.12 L257.32 27.08 L257.82 27.08 L258.32 27.12 L258.82 27.19 L259.32 27.29 L259.82 27.42 L260.32 27.57 L260.82 27.74 L261.32 27.93 L261.82 28.14 L262.32 28.36 L262.81 28.60 L263.31 28.85 L263.81 29.12 L264.31 29.39 L264.81 29.68 L265.31 29.97 L265.81 30.28 L266.31 30.58 L266.81 30.90 L267.31 31.22 L267.81 31.54 L268.31 31.87 L268.81 32.21 L269.31 32.54 L269.81 32.88 L270.31 33.22 L270.81 33.56 L271.31 33.91 L271.81 34.25 L272.31 34.60 L272.81 34.95 L273.30 35.30 L273.80 35.64 L274.30 35.99 L274.80 36.34 L275.30 36.68 L275.80 37.02 L276.30 37.37 L276.80 37.71 L277.30 38.05 L277.80 38.39 L278.30 38.73 L278.80 39.06 L279.30 39.39 L279.80 39.73 L280.30 40.05 L280.80 40.38 L281.30 40.71 L281.80 41.03 L282.30 41.35 L282.79 41.66 L283.29 41.98 L283.79 42.29 L284.29 42.60 L284.79 42.90 L285.29 43.21 L285.79 43.51 L286.29 43.80 L286.79 44.10 L287.29 44.39 L287.79 44.68 L288.29 44.96 L288.79 45.25 L289.29 45.53 L289.79 45.80 L290.29 46.08 L290.79 46.35 L291.29 46.62 L291.79 46.88 L292.29 47.15 L292.78 47.41 L293.28 47.66 L293.78 47.92 L294.28 48.17 L294.78 48.41 L295.28 48.66 L295.78 48.90 L296.28 49.14 L296.78 49.38 L297.28 49.61 L297.78 49.85 L298.28 50.07 L298.78 50.30 L299.28 50.52 L299.78 50.74 L300.28 50.96 L300.78 51.18 L301.28 51.39 L301.78 51.60 L302.28 51.81 L302.77 52.02 L303.27 52.22 L303.77 52.42 L304.27 52.62 L304.77 52.81 L305.27 53.01 L305.77 53.20 L306.27 53.39 L306.77 53.57 L307.27 53.76 L307.77 53.94 L308.27 54.12 L308.77 54.30 L309.27 54.47 L309.77 54.65 L310.27 54.82 L310.77 54.99 L311.27 55.16 L311.77 55.32 L312.27 55.49 L312.76 55.65 L313.26 55.81 L313.76 55.96 L314.26 56.12 L314.76 56.27 L315.26 56.43 L315.76 56.58 L316.26 56.72 L316.76 56.87 L317.26 57.02 L317.76 57.16 L318.26 57.30 L318.76 57.44 L319.26 57.58 L319.76 57.72 L320.26 57.85 L320.76 57.99 L321.26 58.12 L321.76 58.25 L322.26 58.38 L322.75 58.50 L323.25 58.63 L323.75 58.75 L324.25 58.88 L324.75 59.00 L325.25 59.12 L325.75 59.24 L326.25 59.36 L326.75 59.47 L327.25 59.59 L327.75 59.70 L328.25 59.81 L328.75 59.92 L329.25 60.03 L329.75 60.14 L330.25 60.25 L330.75 60.35 L331.25 60.46 L331.75 60.56 L332.25 60.67 L332.75 60.77 L333.24 60.87 L333.74 60.97 L334.24 61.06 L334.74 61.16 L335.24 61.26 L335.74 61.35 L336.24 61.44 L336.74 61.54 L337.24 61.63 L337.74 61.72 L338.24 61.81 L338.74 61.90 L339.24 61.99 L339.74 62.07 L340.24 62.16 L340.74 62.24 L341.24 62.33 L341.74 62.41 L342.24 62.49 L342.74 62.57 L343.23 62.66 L343.73 62.74 L344.23 62.81 L344.73 62.89 L345.23 62.97 L345.73 63.05 L346.23 63.12 L346.73 63.20 L347.23 63.27 L347.73 63.34 L348.23 63.42 L348.73 63.49 L349.23 63.56 L349.73 63.63 L350.23 63.70 L350.73 63.77 L351.23 63.84 L351.73 63.90 L352.23 63.97 L352.72 64.04 L353.22 64.10 L353.72 64.17 L354.22 64.23 L354.72 64.29 L355.22 64.36 L355.72 64.42 L356.22 64.48 L356.72 64.54 L357.22 64.60 L357.72 64.66 L358.22 64.72 L358.72 64.78 L359.22 64.84 L359.72 64.89 L360.22 64.95 L360.72 65.01 L361.22 65.06 L361.72 65.12 L362.22 65.17 L362.72 65.23 L363.21 65.28 L363.71 65.34 L364.21 65.39 L364.71 65.44 L365.21 65.49 L365.71 65.54 L366.21 65.59 L366.71 65.64 L367.21 65.69 L367.71 65.74 L368.21 65.79 L368.71 65.84 L369.21 65.89 L369.71 65.94 L370.21 65.98 L370.71 66.03 L371.21 66.08 L371.71 66.12 L372.21 66.17 L372.71 66.21 L373.20 66.26 L373.70 66.30 L374.20 66.34 L374.70 66.39 L375.20 66.43 L375.70 66.47 L376.20 66.52 L376.70 66.56 L377.20 66.60 L377.70 66.64"/>
</g>
<g class="ax"><rect x="78.45" y="20.3" width="299.05" height="214.0"/><path d="M78.45 47.05h3.6M377.50 47.05h-3.6"/><path d="M78.45 73.80h3.6M377.50 73.80h-3.6"/><path d="M78.45 100.55h3.6M377.50 100.55h-3.6"/><path d="M78.45 127.30h3.6M377.50 127.30h-3.6"/><path d="M78.45 154.05h3.6M377.50 154.05h-3.6"/><path d="M78.45 180.80h3.6M377.50 180.80h-3.6"/><path d="M78.45 207.55h3.6M377.50 207.55h-3.6"/><path d="M153.21 234.30v-3.6M153.21 20.30v3.6"/><path d="M227.98 234.30v-3.6M227.98 20.30v3.6"/><path d="M302.74 234.30v-3.6M302.74 20.30v3.6"/></g>
<g class="tx">
<text transform="translate(68.80,24.00) scale(1,1.030)" text-anchor="end">0.2</text><text transform="translate(68.80,50.79) scale(1,1.030)" text-anchor="end">0.1</text><text transform="translate(68.80,77.58) scale(1,1.030)" text-anchor="end">0</text><text transform="translate(68.80,104.37) scale(1,1.030)" text-anchor="end">-0.1</text><text transform="translate(68.80,131.16) scale(1,1.030)" text-anchor="end">-0.2</text><text transform="translate(68.80,157.95) scale(1,1.030)" text-anchor="end">-0.3</text><text transform="translate(68.80,184.74) scale(1,1.030)" text-anchor="end">-0.4</text><text transform="translate(68.80,211.53) scale(1,1.030)" text-anchor="end">-0.5</text><text transform="translate(68.80,238.32) scale(1,1.030)" text-anchor="end">-0.6</text>
<text transform="translate(78.45,254.10) scale(1,1.030)" text-anchor="middle">-10</text><text transform="translate(153.21,254.10) scale(1,1.030)" text-anchor="middle">-5</text><text transform="translate(230.58,254.10) scale(1,1.030)" text-anchor="middle">0</text><text transform="translate(305.34,254.10) scale(1,1.030)" text-anchor="middle">5</text><text transform="translate(380.10,254.10) scale(1,1.030)" text-anchor="middle">10</text>
<text transform="translate(228.6,277.9) scale(1.22,1.03) skewX(-8)" text-anchor="middle" font-style="italic">z</text>
<text transform="translate(17.9,128.8) rotate(-90) scale(1.15,1.04)" text-anchor="middle" font-style="italic">V</text>
<path class="c" stroke="#ff00ff" style="stroke-width:1.05" stroke-dasharray="2.4 3.2" d="M260.2 191.2H302.3"/>
<path class="c" stroke="#0000ff" stroke-dasharray="9.4 4" d="M260.2 207.4H302.3"/>
<path class="c" stroke="#000" style="stroke-width:1" d="M260.2 223H302.3"/>
<text transform="translate(316.50,195.50) scale(1,1.030)" text-anchor="start"><tspan font-style="italic">b</tspan></text><text transform="translate(333.8,195.50) scale(1.32,1.030)" text-anchor="middle" style="stroke-width:0.1px">=</text><text transform="translate(344.40,195.50) scale(1,1.030)" text-anchor="start">0.2</text><text transform="translate(316.50,211.60) scale(1,1.030)" text-anchor="start"><tspan font-style="italic">b</tspan></text><text transform="translate(333.8,211.60) scale(1.32,1.030)" text-anchor="middle" style="stroke-width:0.1px">=</text><text transform="translate(344.40,211.60) scale(1,1.030)" text-anchor="start">0.3</text><text transform="translate(316.50,227.30) scale(1,1.030)" text-anchor="start"><tspan font-style="italic">b</tspan></text><text transform="translate(333.8,227.30) scale(1.32,1.030)" text-anchor="middle" style="stroke-width:0.1px">=</text><text transform="translate(344.40,227.30) scale(1,1.030)" text-anchor="start">0.4</text>
</g>
</svg></body></html>
